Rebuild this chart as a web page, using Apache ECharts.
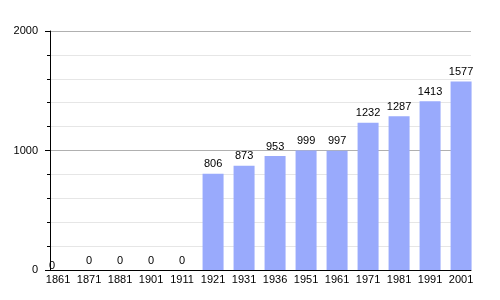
<!DOCTYPE html>
<html><head><meta charset="utf-8">
<script src="https://cdn.jsdelivr.net/npm/echarts@6/dist/echarts.min.js"></script>
<style>html,body{margin:0;padding:0;background:#fff}#c{width:500px;height:300px}</style>
</head><body><div id="c"></div>
<script>
const years = ['1861','1871','1881','1901','1911','1921','1931','1936','1951','1961','1971','1981','1991','2001'];
const population = [0,0,0,0,0,806,873,953,999,997,1232,1287,1413,1577];
const yTicks = [0,1000,2000];

const chart = echarts.init(document.getElementById('c'), null, {renderer:'canvas'});
const idx = years.map((_, i) => i);
const data = population.map((v, i) => {
  const item = {value: [i, v]};
  if (i === 0) item.label = {offset: [-6, 5]};
  return item;
});
chart.setOption({
  animation: false,
  grid: {left: 50, right: 29, top: 31, bottom: 30},
  xAxis: {
    type: 'value', min: -0.26, max: 13.32,
    axisLine: {show: true, onZero: false, lineStyle: {color: '#000', width: 1}},
    axisTick: {show: false},
    splitLine: {show: false},
    axisLabel: {customValues: idx, formatter: v => years[Math.round(v)] || '', color: '#000', fontSize: 11, fontFamily: 'Liberation Sans', margin: 4, showMinLabel: true, showMaxLabel: true}
  },
  yAxis: {
    type: 'value', min: 0, max: 2000, interval: 1000,
    axisLine: {show: true, onZero: false, lineStyle: {color: '#000', width: 1}},
    axisTick: {show: true, length: 5, lineStyle: {color: '#000'}},
    minorTick: {show: true, splitNumber: 5, length: 3, lineStyle: {color: '#000'}},
    splitLine: {show: true, lineStyle: {color: '#b0b0b0', width: 1}},
    minorSplitLine: {show: true, lineStyle: {color: '#e6e6e6', width: 1}},
    axisLabel: {customValues: yTicks, formatter: v => String(v), color: '#000', fontSize: 11, fontFamily: 'Liberation Sans', margin: 12}
  },
  series: [{
    type: 'bar', data: data, barWidth: 21,
    itemStyle: {color: '#99aafc'},
    label: {show: true, position: 'top', distance: 4, color: '#000', fontSize: 11, fontFamily: 'Liberation Sans'}
  }]
});
</script></body></html>
